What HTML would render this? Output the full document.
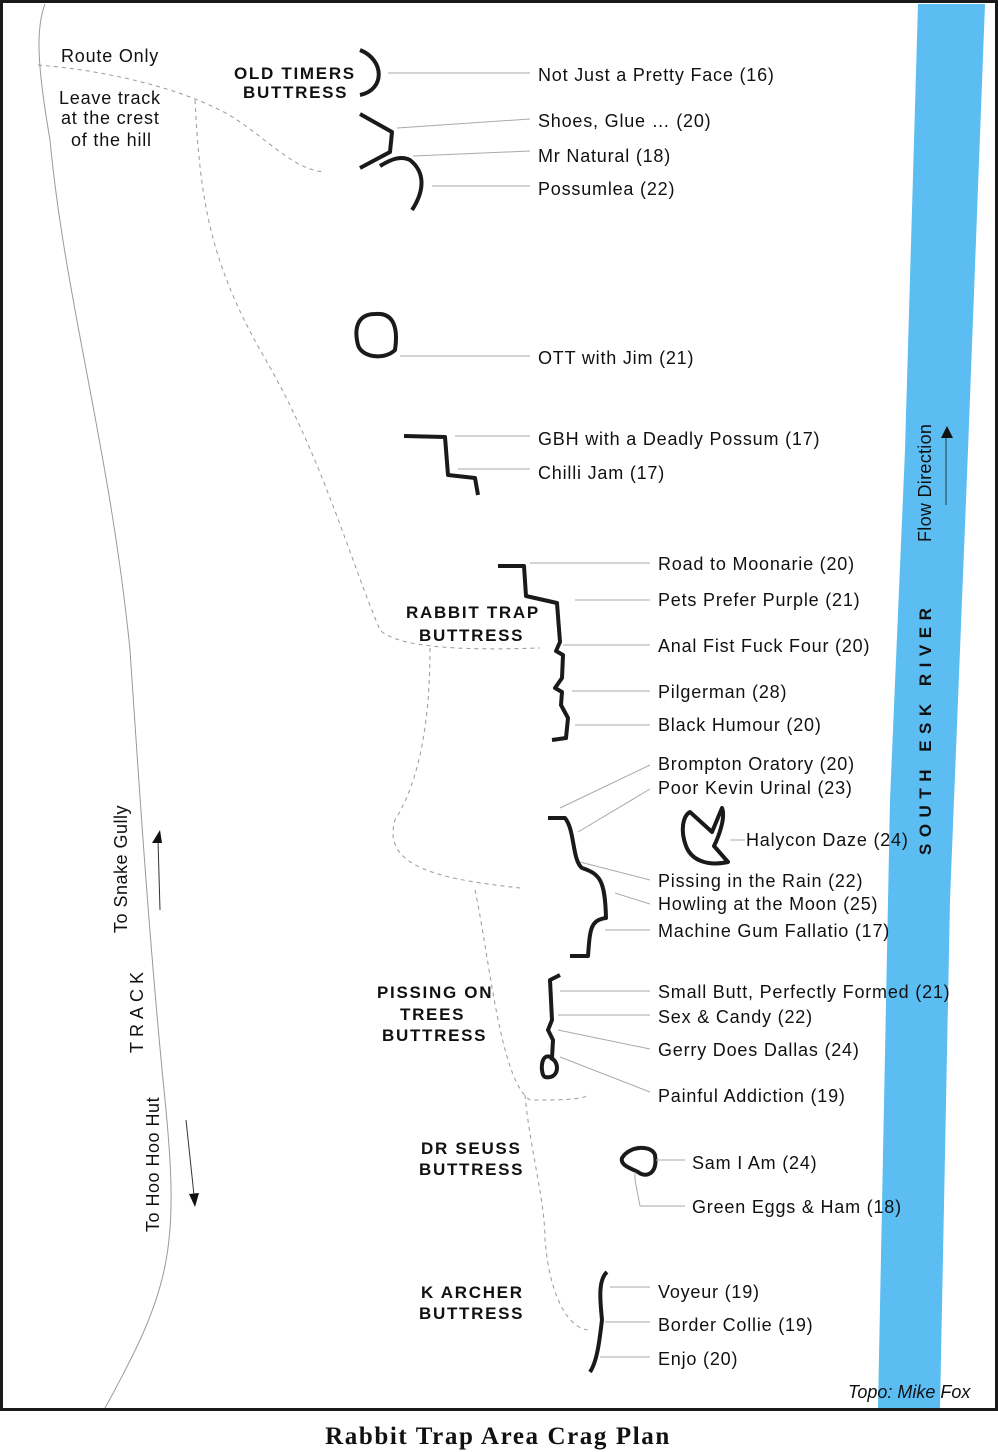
<!DOCTYPE html>
<html><head><meta charset="utf-8"><style>
html,body{margin:0;padding:0;background:#fff;width:998px;height:1452px;overflow:hidden}
svg{display:block}
text{font-family:"Liberation Sans",sans-serif;fill:#111}
.l{font-size:18px;letter-spacing:0.8px}
.b{font-size:17px;font-weight:bold;letter-spacing:1.7px}
.ld{stroke:#aaa;stroke-width:1;fill:none}
.c{stroke:#1a1a1a;stroke-width:4;fill:none;stroke-linecap:butt;stroke-linejoin:round}
.d{stroke:#999;stroke-width:1;fill:none;stroke-dasharray:4,4}
.t{stroke:#999;stroke-width:1;fill:none}
</style></head><body>
<svg width="998" height="1452" viewBox="0 0 998 1452">
<rect x="1.5" y="1.5" width="995" height="1408" fill="#fff" stroke="#1a1a1a" stroke-width="3"/>
<polygon points="918,4 985,4 968,450 950,900 940,1408 878,1408 890,800 905,450" fill="#5bbdf2"/>
<path class="t" d="M45,4 C35,30 38,70 50,140 C65,300 110,450 130,650 C140,800 150,950 165,1100 C180,1250 170,1290 105,1408"/>
<path class="d" d="M38,65 C100,70 170,85 220,110 C260,130 290,170 325,172"/>
<path class="d" d="M195,100 C200,200 210,260 260,350 C320,450 350,560 380,630 C400,650 480,650 540,648"/>
<path class="d" d="M430,648 C430,720 420,780 395,820 C380,870 450,880 520,888"/>
<path class="d" d="M475,890 C490,960 500,1080 530,1100 C560,1100 580,1100 590,1095"/>
<path class="d" d="M525,1095 C530,1150 545,1200 545,1240 C550,1300 570,1330 590,1330"/>
<line x1="158" y1="840" x2="160" y2="910" stroke="#333" stroke-width="1"/>
<polygon points="152,843 160,830 162,843" fill="#111"/>
<line x1="186" y1="1120" x2="194" y2="1195" stroke="#333" stroke-width="1"/>
<polygon points="189,1194 199,1193 195,1207" fill="#111"/>
<line x1="946" y1="435" x2="946" y2="505" stroke="#333" stroke-width="1"/>
<polygon points="941,438 947,426 953,438" fill="#111"/>
<path class="c" d="M360,50 C385,60 385,90 360,95"/>
<path class="c" d="M360,114 L392,132 L390,152 L360,168"/>
<path class="c" d="M380,166 C390,160 400,155 410,160 C425,172 425,190 412,210"/>
<path class="c" d="M375,314 C395,312 398,330 395,350 C385,360 362,358 358,345 C353,325 360,314 375,314Z"/>
<path class="c" d="M404,436 L445,437 L448,475 L475,478 L478,495"/>
<path class="c" d="M498,566 L524,566 L526,596 L557,603 L560,642 L556,651 L563,655 L562,678 L555,688 L562,692 L561,705 L568,718 L566,738 L552,740"/>
<path class="c" d="M548,818 L565,818 C575,830 572,860 582,868 C600,874 605,880 606,918 C590,920 590,930 588,956 L570,956"/>
<path class="c" d="M690,812 L712,832 L722,808 C726,818 718,838 714,846 L728,862 C710,866 692,862 686,846 C680,830 683,816 690,812Z"/>
<path class="c" d="M560,975 L550,980 L552,1020 L548,1030 L553,1040 L552,1058 C540,1050 540,1075 545,1077 C560,1080 560,1060 550,1058"/>
<path class="c" d="M622,1158 C630,1145 652,1145 655,1155 C658,1175 645,1178 638,1172 C630,1168 620,1165 622,1158Z"/>
<path class="c" d="M607,1272 C598,1280 600,1300 602,1320 C600,1335 598,1360 590,1372"/>
<path class="ld" d="M388,73H530 M397,128L530,119 M413,156L530,151 M432,186H530 M400,356H530 M455,436H530 M458,469H530 M530,563H650 M575,600H650 M563,645H650 M572,691H650 M575,725H650 M560,808L650,765 M578,832L650,789 M730,840H745 M580,862L650,880 M615,893L650,904 M605,930H650 M560,991H650 M558,1015H650 M558,1030L650,1049 M560,1057L650,1092 M635,1172V1180L640,1206H685 M656,1160H685 M610,1287H650 M605,1322H650 M600,1357H650"/>
<text class="l" x="61" y="62">Route Only</text>
<text class="l" x="59" y="104">Leave track</text>
<text class="l" x="61" y="124">at the crest</text>
<text class="l" x="71" y="146">of the hill</text>
<text class="b" x="234" y="79">OLD TIMERS</text>
<text class="b" x="243" y="98">BUTTRESS</text>
<text class="b" x="406" y="618">RABBIT TRAP</text>
<text class="b" x="419" y="641">BUTTRESS</text>
<text class="b" x="377" y="998">PISSING ON</text>
<text class="b" x="400" y="1020">TREES</text>
<text class="b" x="382" y="1041">BUTTRESS</text>
<text class="b" x="421" y="1154">DR SEUSS</text>
<text class="b" x="419" y="1175">BUTTRESS</text>
<text class="b" x="421" y="1298">K ARCHER</text>
<text class="b" x="419" y="1319">BUTTRESS</text>
<text class="l" x="538" y="81">Not Just a Pretty Face (16)</text>
<text class="l" x="538" y="127">Shoes, Glue … (20)</text>
<text class="l" x="538" y="162">Mr Natural (18)</text>
<text class="l" x="538" y="195">Possumlea (22)</text>
<text class="l" x="538" y="364">OTT with Jim (21)</text>
<text class="l" x="538" y="445">GBH with a Deadly Possum (17)</text>
<text class="l" x="538" y="479">Chilli Jam (17)</text>
<text class="l" x="658" y="570">Road to Moonarie (20)</text>
<text class="l" x="658" y="606">Pets Prefer Purple (21)</text>
<text class="l" x="658" y="652">Anal Fist Fuck Four (20)</text>
<text class="l" x="658" y="698">Pilgerman (28)</text>
<text class="l" x="658" y="731">Black Humour (20)</text>
<text class="l" x="658" y="770">Brompton Oratory (20)</text>
<text class="l" x="658" y="794">Poor Kevin Urinal (23)</text>
<text class="l" x="746" y="846">Halycon Daze (24)</text>
<text class="l" x="658" y="887">Pissing in the Rain (22)</text>
<text class="l" x="658" y="910">Howling at the Moon (25)</text>
<text class="l" x="658" y="937">Machine Gum Fallatio (17)</text>
<text class="l" x="658" y="998">Small Butt, Perfectly Formed (21)</text>
<text class="l" x="658" y="1023">Sex &amp; Candy (22)</text>
<text class="l" x="658" y="1056">Gerry Does Dallas (24)</text>
<text class="l" x="658" y="1102">Painful Addiction (19)</text>
<text class="l" x="692" y="1169">Sam I Am (24)</text>
<text class="l" x="692" y="1213">Green Eggs &amp; Ham (18)</text>
<text class="l" x="658" y="1298">Voyeur (19)</text>
<text class="l" x="658" y="1331">Border Collie (19)</text>
<text class="l" x="658" y="1365">Enjo (20)</text>
<text class="l" x="848" y="1398" style="font-style:italic;letter-spacing:0">Topo: Mike Fox</text>
<text class="l" transform="translate(127,933) rotate(-90)" style="letter-spacing:0.5px">To Snake Gully</text>
<text class="l" transform="translate(143,1053) rotate(-90)" style="letter-spacing:5px">TRACK</text>
<text class="l" transform="translate(159,1232) rotate(-90)" style="letter-spacing:0.5px">To Hoo Hoo Hut</text>
<text class="l" transform="translate(931,542) rotate(-90)" style="letter-spacing:0.3px">Flow Direction</text>
<text class="b" transform="translate(931,855) rotate(-90)" style="letter-spacing:6.5px">SOUTH ESK RIVER</text>
<text x="498" y="1444" text-anchor="middle" style="font-family:'Liberation Serif',serif;font-weight:bold;font-size:25px;letter-spacing:1.6px">Rabbit Trap Area Crag Plan</text>
</svg>
</body></html>
